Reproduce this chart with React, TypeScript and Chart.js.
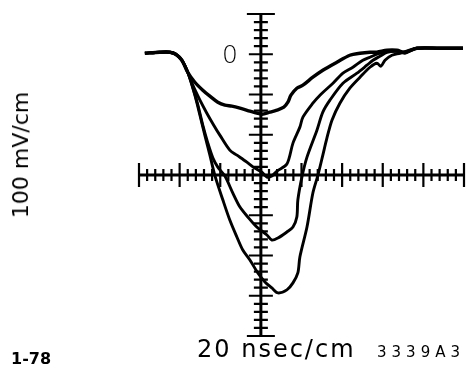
import React, { useEffect, useRef } from "react";
import { Chart, registerables } from "chart.js";

Chart.register(...registerables);

// time in ns (20 nsec/cm), amplitude in mV (100 mV/cm), 0 mV = trace baseline
const X_MIN = -60;
const X_MAX = 100;
const Y_MIN = -700;
const Y_MAX = 100;
const AXIS_X_AT = 0; // vertical graticule line (ns)
const AXIS_Y_AT = -300; // horizontal graticule line (mV)
const MAJOR_X = 20;
const MINOR_X = 4;
const MAJOR_Y = 100;
const MINOR_Y = 20;

const leadX = [-57.1, -49.8, -44.8, -41.9, -38.9, -36.0];
const leadY = [2.5, 5, 5, 0, -14.9, -44.7];

const trace1X = [-32.5, -28.6, -25.1, -21.2, -17.7, -14.3, -10.3, -5.4, -2.0, 0.5, 4.4, 7.9, 11.3, 13.3, 14.8, 17.7, 20.7, 25.6, 30.5, 37.4, 43.8, 48.8, 53.7, 57.1, 62.1, 67.0, 70.9, 76.8, 88.2, 99.5];
const trace1Y = [-69.5, -89.3, -104.2, -119.1, -126.5, -129, -134, -141.4, -146.4, -148.9, -143.9, -138.9, -131.5, -119.1, -101.7, -84.4, -76.9, -57.1, -39.7, -19.8, -2.5, 2.5, 5, 5, 9.9, 9.9, 5, 14.9, 14.9, 14.9];

const trace2X = [-33.5, -30.0, -26.6, -23.2, -20.2, -15.3, -11.8, -6.9, -3.0, 0.5, 3.0, 5.4, 7.9, 12.8, 15.8, 19.2, 20.7, 25.6, 29.1, 35.5, 40.4, 45.3, 50.2, 53.7, 57.1, 62.1, 67.0, 70.9, 76.8, 88.2, 99.5];
const trace2Y = [-76.9, -114.1, -146.4, -176.2, -201, -238.2, -250.6, -268, -282.8, -292.8, -305.2, -302.7, -290.3, -272.9, -220.8, -181.1, -156.3, -121.6, -101.7, -72, -47.1, -32.3, -14.9, -7.4, 0, 7.4, 7.4, 5, 14.9, 14.9, 14.9];

const trace3X = [-33.5, -31.0, -28.6, -26.1, -23.6, -21.2, -17.7, -13.8, -10.3, -6.4, -2.0, 3.0, 5.4, 8.4, 12.8, 15.8, 17.7, 18.2, 20.2, 22.7, 27.6, 30.5, 34.0, 40.4, 47.3, 52.2, 55.2, 58.6, 62.1, 67.0, 70.9, 76.8, 88.2, 99.5];
const trace3Y = [-81.9, -126.5, -176.2, -220.8, -258, -280.4, -302.7, -344.9, -379.6, -404.4, -429.2, -449.1, -461.5, -456.5, -441.6, -429.2, -404.4, -362.2, -305.2, -255.5, -188.6, -143.9, -114.1, -72, -47.1, -27.3, -14.9, -5, 5, 7.4, 2.5, 14.9, 14.9, 14.9];

const trace4X = [-32.5, -30.0, -27.6, -25.1, -22.7, -18.7, -15.3, -11.8, -8.9, -5.4, -1.5, 2.0, 5.4, 8.4, 12.8, 15.8, 18.2, 19.2, 22.7, 25.6, 28.1, 30.5, 32.5, 35.0, 38.9, 43.8, 48.8, 53.7, 57.1, 59.1, 61.1, 64.5, 68.5, 76.8, 88.2, 99.5];
const trace4Y = [-101.7, -151.3, -201, -250.6, -300.2, -362.2, -411.8, -454, -486.3, -511.1, -543.3, -565.7, -580.6, -593, -585.5, -568.1, -543.3, -503.6, -429.2, -344.9, -300.2, -250.6, -208.4, -163.7, -121.6, -84.4, -57.1, -32.3, -22.3, -29.8, -14.9, -2.5, 2.5, 14.9, 14.9, 14.9];

const zeroLabel = "0";
const yTitle = "100 mV/cm";
const xTitle = "20 nsec/cm";
const leftNote = "1-78";
const rightNote = "3339A3";

function toPoints(xs: number[], ys: number[]) {
  const pts = leadX.map((x, i) => ({ x, y: leadY[i] }));
  xs.forEach((x, i) => pts.push({ x, y: ys[i] }));
  return pts;
}

const graticule = {
  id: "graticule",
  afterDatasetsDraw(chart: any) {
    const { ctx } = chart;
    const xs = chart.scales.x;
    const ys = chart.scales.y;
    const cx = xs.getPixelForValue(AXIS_X_AT);
    const cy = ys.getPixelForValue(AXIS_Y_AT);
    ctx.save();
    ctx.strokeStyle = "#000";
    ctx.lineCap = "butt";
    ctx.lineWidth = 3;
    ctx.beginPath();
    ctx.moveTo(xs.getPixelForValue(X_MIN), cy);
    ctx.lineTo(xs.getPixelForValue(X_MAX), cy);
    ctx.moveTo(cx, ys.getPixelForValue(Y_MIN));
    ctx.lineTo(cx, ys.getPixelForValue(Y_MAX));
    ctx.stroke();
    ctx.lineWidth = 2.2;
    ctx.beginPath();
    for (let v = X_MIN; v <= X_MAX + 0.001; v += MINOR_X) {
      const px = xs.getPixelForValue(v);
      const major = Math.abs(Math.round(v / MAJOR_X) * MAJOR_X - v) < 0.01;
      const h = major ? 12 : 6;
      ctx.moveTo(px, cy - h);
      ctx.lineTo(px, cy + h);
    }
    for (let v = Y_MIN; v <= Y_MAX + 0.001; v += MINOR_Y) {
      const py = ys.getPixelForValue(v);
      const major = Math.abs(Math.round(v / MAJOR_Y) * MAJOR_Y - v) < 0.01;
      const end = Math.abs(v - Y_MIN) < 0.01 || Math.abs(v - Y_MAX) < 0.01;
      const h = end ? 14 : major ? 12 : 7;
      ctx.moveTo(cx - h, py);
      ctx.lineTo(cx + h, py);
    }
    ctx.stroke();
    ctx.restore();
  },
};

export default function App() {
  const ref = useRef<HTMLCanvasElement>(null);
  useEffect(() => {
    if (!ref.current) return;
    const mk = (data: { x: number; y: number }[], w: number) => ({
      data,
      borderColor: "#000",
      borderWidth: w,
      pointRadius: 0,
      tension: 0.3,
      fill: false,
      clip: false as any,
    });
    const chart = new Chart(ref.current, {
      type: "line",
      data: {
        datasets: [
          mk(toPoints(trace1X, trace1Y), 3.4),
          mk(toPoints(trace2X, trace2Y), 2.9),
          mk(toPoints(trace3X, trace3Y), 2.9),
          mk(toPoints(trace4X, trace4Y), 2.9),
        ],
      },
      options: {
        animation: false,
        responsive: false,
        maintainAspectRatio: false,
        layout: { padding: { left: 139, right: 6, top: 14, bottom: 49 } },
        plugins: { legend: { display: false }, tooltip: { enabled: false }, title: { display: false } },
        scales: {
          x: { type: "linear", min: X_MIN, max: X_MAX, display: false },
          y: { type: "linear", min: Y_MIN, max: Y_MAX, display: false },
        },
      },
      plugins: [graticule],
    });
    return () => chart.destroy();
  }, []);

  const font = "'DejaVu Sans', sans-serif";
  return (
    <div style={{ position: "fixed", left: 0, top: 0, width: 470, height: 385, background: "#fff", overflow: "hidden" }}>
      <canvas ref={ref} width={470} height={385} style={{ position: "absolute", left: 0, top: 0 }} />
      <div style={{ position: "absolute", left: 222, top: 40, fontFamily: font, fontSize: 25, fontWeight: 200, lineHeight: "30px" }}>{zeroLabel}</div>
      <div
        style={{
          position: "absolute",
          left: 21,
          top: 155,
          transform: "translate(-50%, -50%) rotate(-90deg)",
          fontFamily: font,
          fontSize: 22,
          letterSpacing: 0,
          whiteSpace: "nowrap",
          lineHeight: "24px",
        }}
      >
        {yTitle}
      </div>
      <div style={{ position: "absolute", left: 197, top: 335, fontFamily: font, fontSize: 24, letterSpacing: 2, whiteSpace: "nowrap", lineHeight: "28px" }}>{xTitle}</div>
      <div style={{ position: "absolute", left: 11, top: 349, fontFamily: font, fontSize: 16, fontWeight: 700, whiteSpace: "nowrap", lineHeight: "20px" }}>{leftNote}</div>
      <div style={{ position: "absolute", left: 377, top: 343, fontFamily: font, fontSize: 15, letterSpacing: 5, whiteSpace: "nowrap", lineHeight: "18px" }}>{rightNote}</div>
    </div>
  );
}
